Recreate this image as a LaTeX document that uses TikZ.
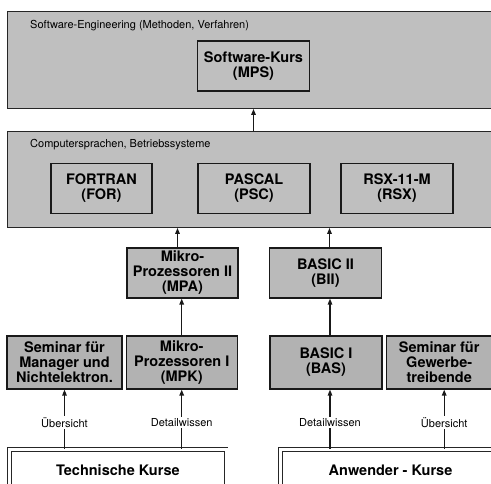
\documentclass[tikz,border=0pt]{standalone}
\usepackage{fontspec}
\setmainfont{TeX Gyre Heros}
\usetikzlibrary{arrows.meta,positioning,calc}

\begin{document}
\begin{tikzpicture}[
    x=1pt, y=-1pt,
    layer/.style={rectangle, draw=black!85, fill=black!25, line width=0.9pt, minimum width=500pt, minimum height=#1, anchor=north west, inner sep=0pt},
    course/.style={rectangle, draw=black!90, fill=black!#1, line width=1.2pt, minimum height=50pt, align=center, inner sep=0pt, font=\bfseries\fontsize{14.5}{15}\selectfont},
    caption/.style={anchor=base west, inner sep=0pt, font=\fontsize{11}{12}\selectfont},
    track/.style={rectangle, draw=black!85, fill=white, double, double distance=3pt, line width=0.7pt, minimum height=42pt, anchor=north west, inner sep=0pt, font=\bfseries\fontsize{14.5}{15}\selectfont},
    level/.style={fill=white, inner sep=1.5pt, font=\fontsize{11}{12}\selectfont},
    arrow/.style={-{Triangle[length=6pt, width=4.5pt]}, line width=1.3pt, draw=black!90}
]
    \clip (0,0) rectangle (491,484);

    % Software-Engineering
    \node[layer=97pt] (engineering) at (7,11) {};
    \node[caption] (engcap) at (30,29) {Software-Engineering (Methoden, Verfahren)};
    \node[course=25, minimum width=112pt] (mps) at (253.5,66) {Software-Kurs\\(MPS)};

    % Sprachen und Betriebssysteme
    \node[layer=96pt] (languages) at (7,131) {};
    \node[caption] (langcap) at (30,148) {Computersprachen, Betriebssysteme};
    \node[course=25, minimum width=101pt] (for) at (101.5,188.5) {FORTRAN\\(FOR)};
    \node[course=25, minimum width=112pt] (psc) at (254,188.5) {PASCAL\\(PSC)};
    \node[course=25, minimum width=112pt] (rsx) at (397,188.5) {RSX-11-M\\(RSX)};

    % Aufbaukurse
    \node[course=27, minimum width=111pt] (mpa) at (182.5,273) {Mikro-\\Prozessoren II\\(MPA)};
    \node[course=27, minimum width=112pt] (bii) at (325.5,273) {BASIC II\\(BII)};

    % Einstiegskurse
    \node[course=30, minimum width=115pt, minimum height=53pt] (seminarm) at (64.5,362.5) {Seminar f\"ur\\Manager und\\Nichtelektron.};
    \node[course=30, minimum width=111pt, minimum height=53pt, right=3pt of seminarm] (mpk) {Mikro-\\Prozessoren I\\(MPK)};
    \node[course=30, minimum width=112pt, minimum height=53pt] (bas) at (326,362.5) {BASIC I\\(BAS)};
    \node[course=30, minimum width=106pt, minimum height=53pt, right=3pt of bas] (seminarg) {Seminar f\"ur\\Gewerbe-\\treibende};

    % Kursgruppen
    \node[track, minimum width=216.6pt] (technik) at (9.2,449.2) {Technische Kurse};
    \node[track, minimum width=220pt] (anwender) at (280.2,449.2) {Anwender - Kurse};

    \draw[arrow] (languages.north -| mps) -- (engineering.south -| mps);
    \draw[arrow] ([xshift=-5pt]mpa.north) -- ([xshift=-5pt]mpa.north |- languages.south);
    \draw[arrow] ([xshift=4pt]bii.north) -- ([xshift=4pt]bii.north |- languages.south);
    \draw[arrow] (mpk.north) -- (mpk.north |- mpa.south);
    \draw[arrow] ([xshift=4pt]bas.north) -- ([xshift=4pt]bas.north |- bii.south);

    \draw[arrow] (seminarm.south |- technik.north) -- node[level, pos=0.45] (ueber1) {\"Ubersicht} (seminarm.south);
    \draw[arrow] (mpk.south |- technik.north) -- node[level, pos=0.45] (detail1) {Detailwissen} (mpk.south);
    \draw[arrow] ([xshift=4pt]bas.south |- anwender.north) -- node[level, pos=0.45] (detail2) {Detailwissen} ([xshift=4pt]bas.south);
    \draw[arrow] ([xshift=5pt]seminarg.south |- anwender.north) -- node[level, pos=0.45] (ueber2) {\"Ubersicht} ([xshift=5pt]seminarg.south);
\end{tikzpicture}
\end{document}
